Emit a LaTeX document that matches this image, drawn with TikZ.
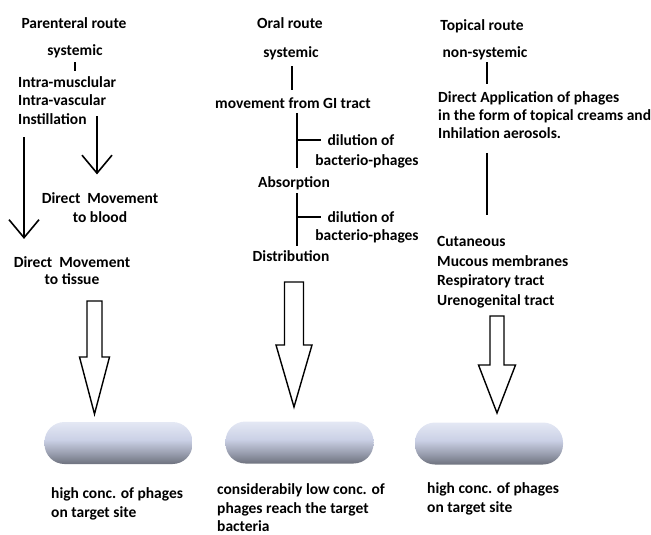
\documentclass[tikz,border=0pt]{standalone}
\usepackage{fontspec}
\setmainfont{Carlito}
\usetikzlibrary{arrows.meta,positioning,calc}
\definecolor{pilltop}{HTML}{6E727E}
\definecolor{pillhigh}{HTML}{9A9FB0}
\definecolor{pillmid}{HTML}{CBD1E6}
\definecolor{pilllow}{HTML}{E4E8F4}
% y axis is flipped below, so 0bp is the top of the pill
\pgfdeclareverticalshading{pillshade}{100bp}{color(0bp)=(pilltop); color(25bp)=(pilltop); color(38bp)=(pillhigh); color(54bp)=(pillmid); color(75bp)=(pilllow); color(100bp)=(pilllow)}
\tikzset{
  lbl/.style={font=\bfseries\fontsize{15.5}{19}\selectfont, inner sep=1pt, align=left},
  link/.style={line width=1.6pt},
  thinarrow/.style={line width=1.6pt, -{Straight Barb[length=18pt, width=30pt]}},
  bigarrow/.style={draw, line width=1.4pt, fill=white, line join=miter},
  pill/.style={shade, shading=pillshade, rounded corners=20pt, minimum width=148pt, minimum height=42pt, inner sep=0pt}
}
\begin{document}
\begin{tikzpicture}[x=1pt, y=-1pt]
\useasboundingbox (0,0) rectangle (651,535);

% parenteral route
\node[lbl, anchor=base] (par) at (74,28.5) {Parenteral route};
\node[lbl, anchor=base] (sys1) at (75,55.5) {systemic};
% multi-line nodes: base is the last line
\node[lbl, anchor=base west, font=\bfseries\fontsize{15.5}{18.5}\selectfont] (inj) at (17,124.5) {Intra-musclular\\Intra-vascular\\Instillation};
\node[lbl, anchor=base, align=center] (blood) at (100,222.5) {Direct\ \ Movement\\to blood};
\node[lbl, anchor=base, align=center, font=\bfseries\fontsize{15.5}{17.5}\selectfont] (tissue) at (72,284.5) {Direct\ \ Movement\\to tissue};
\coordinate (inj-r) at (97,116);
\coordinate (inj-l) at (24,137);

\draw[link, shorten <=3pt, shorten >=4pt] (sys1.south) -- (sys1.south |- inj.north);
\draw[thinarrow, shorten >=17pt] (inj-r) -- (inj-r |- blood.north);
\draw[thinarrow, shorten >=16pt] (inj-l) -- (inj-l |- tissue.north);

% oral route
\node[lbl, anchor=base] (oral) at (290,28.5) {Oral route};
\node[lbl, anchor=base] (sys2) at (291,57.5) {systemic};
\node[lbl, anchor=base] (gi) at (293,108.5) {movement from GI tract};
\node[lbl, anchor=base] (dil1) at (361,145.5) {dilution of};
\node[lbl, anchor=base] (bac1) at (367,165.5) {bacterio-phages};
\node[lbl, anchor=base] (abs) at (294,187.5) {Absorption};
\node[lbl, anchor=base] (dil2) at (361,222.5) {dilution of};
\node[lbl, anchor=base] (bac2) at (367,240.5) {bacterio-phages};
\node[lbl, anchor=base] (dist) at (291,261.5) {Distribution};

\draw[link, shorten <=5pt, shorten >=7pt] ([xshift=1pt]sys2.south) -- ([xshift=1pt]sys2.south |- gi.north);
\draw[link, shorten <=3pt, shorten >=7pt] ([xshift=4pt]gi.south) -- ([xshift=4pt]gi.south |- abs.north);
\draw[link] ([xshift=4pt]gi.south |- dil1.west) -- ([xshift=-5pt]dil1.west);
\draw[link, shorten <=2pt, shorten >=3pt] ([xshift=3pt]abs.south) -- ([xshift=3pt]abs.south |- dist.north);
\draw[link] ([xshift=3pt]abs.south |- dil2.west) -- ([xshift=-5pt]dil2.west);

% topical route
\node[lbl, anchor=base] (top) at (482,30.5) {Topical route};
\node[lbl, anchor=base] (non) at (485,57.5) {non-systemic};
\node[lbl, anchor=base west, font=\bfseries\fontsize{15.5}{18}\selectfont] (app) at (437,138.5) {Direct Application of phages\\in the form of topical creams and\\Inhilation aerosols.};
\node[lbl, anchor=base west, font=\bfseries\fontsize{15.5}{19.7}\selectfont] (sites) at (436,305.5) {Cutaneous\\Mucous membranes\\Respiratory tract\\Urenogenital tract};

\draw[link, shorten <=1pt, shorten >=6pt] ([xshift=2pt]non.south) -- ([xshift=2pt]non.south |- app.north);
\draw[link, shorten <=13pt, shorten >=20pt] ([xshift=2pt]non.south |- app.south) -- ([xshift=2pt]non.south |- sites.north);

% target sites
\node[pill] (pill1) at (118.5,443) {};
\node[pill] (pill2) at (299.5,442.5) {};
\node[pill] (pill3) at (489,443.5) {};

\coordinate (a1) at (94.5,301);
\coordinate (a1tip) at (94.5,414);
\coordinate (a2) at (294,282);
\coordinate (a2tip) at (294,407);
\coordinate (a3) at (497,316);
\coordinate (a3tip) at (497,413);
\draw[bigarrow] (a1) ++(-7.5,0) -- ++(15,0) -- ++(0,56) -- ++(7.5,0) -- (a1tip) -- ++(-15,-57) -- ++(7.5,0) -- cycle;
\draw[bigarrow] (a2) ++(-9.5,0) -- ++(19,0) -- ++(0,63) -- ++(8.5,0) -- (a2tip) -- ++(-18,-62) -- ++(8.5,0) -- cycle;
\draw[bigarrow] (a3) ++(-7,0) -- ++(14,0) -- ++(0,49) -- ++(11.5,0) -- (a3tip) -- ++(-18.5,-48) -- ++(11.5,0) -- cycle;

\node[lbl, anchor=base west] (conc1) at (50,517.5) {high conc. of phages\\on target site};
\node[lbl, anchor=base west, font=\bfseries\fontsize{15.5}{18.5}\selectfont] (conc2) at (216,531.5) {considerabily low conc. of\\phages reach the target\\bacteria};
\node[lbl, anchor=base west] (conc3) at (426,512.5) {high conc. of phages\\on target site};
\end{tikzpicture}
\end{document}
